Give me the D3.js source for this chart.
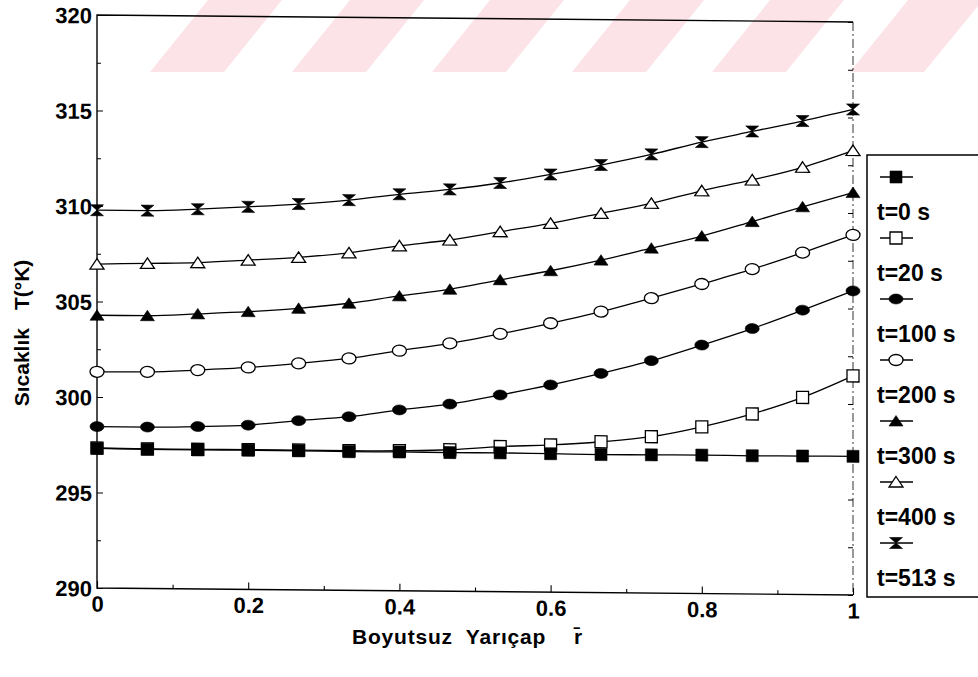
<!DOCTYPE html>
<html><head><meta charset="utf-8">
<script src="https://cdn.jsdelivr.net/npm/d3@7"></script>
<style>
body{margin:0;background:#fff;}
svg{display:block;}
text{font-family:"Liberation Sans",Arial,sans-serif;font-weight:bold;fill:#000;}
</style>
</head><body>
<svg id="chart" width="978" height="677"></svg>
<script>
// ---- data ----
const radius = [0, 0.0667, 0.1333, 0.2, 0.2667, 0.3333, 0.4, 0.4667, 0.5333, 0.6, 0.6667, 0.7333, 0.8, 0.8667, 0.9333, 1];
const t0   = [297.31, 297.29, 297.28, 297.29, 297.28, 297.26, 297.27, 297.26, 297.27, 297.25, 297.23, 297.24, 297.25, 297.24, 297.25, 297.26];
const t20  = [297.33, 297.31, 297.31, 297.32, 297.32, 297.31, 297.34, 297.41, 297.60, 297.71, 297.90, 298.19, 298.73, 299.43, 300.32, 301.47];
const t100 = [298.45, 298.45, 298.50, 298.60, 298.86, 299.09, 299.47, 299.80, 300.30, 300.85, 301.48, 302.17, 303.01, 303.90, 304.89, 305.92];
const t200 = [301.32, 301.34, 301.46, 301.62, 301.86, 302.14, 302.57, 302.98, 303.50, 304.08, 304.71, 305.44, 306.21, 307.01, 307.90, 308.85];
const t300 = [304.28, 304.28, 304.40, 304.54, 304.74, 305.03, 305.44, 305.81, 306.33, 306.83, 307.41, 308.06, 308.72, 309.50, 310.30, 311.07];
const t400 = [306.96, 307.02, 307.08, 307.24, 307.41, 307.67, 308.06, 308.39, 308.85, 309.31, 309.86, 310.41, 311.09, 311.68, 312.37, 313.27];
const t513 = [309.78, 309.78, 309.88, 310.03, 310.20, 310.43, 310.76, 311.04, 311.40, 311.87, 312.39, 312.97, 313.64, 314.22, 314.79, 315.42];
const seriesNames = ["t=0 s", "t=20 s", "t=100 s", "t=200 s", "t=300 s", "t=400 s", "t=513 s"];
const seriesValues = [t0, t20, t100, t200, t300, t400, t513];
const markerTypes = ["squareFilled", "squareOpen", "circleFilled", "circleOpen", "triFilled", "triOpen", "bowtie"];
const yTicks = [290, 295, 300, 305, 310, 315, 320];
const yMinor = [292.5, 297.5, 302.5, 307.5, 312.5, 317.5];
const xTicks = [0, 0.2, 0.4, 0.6, 0.8, 1];
const xMinor = [0.1, 0.3, 0.5, 0.7, 0.9];
const xTitle = "Boyutsuz  Yarıçap";
const yTitleA = "Sıcaklık";
const yTitleB = "T(°K)";

// ---- drawing ----
const svg = d3.select("#chart");

// faint watermark stripes
const wm = svg.append("g").attr("fill", "#fce3e8");
const stripes = [150, 292, 432, 572, 712];
stripes.forEach(b => {
  wm.append("path").attr("d", `M${b},72 L${b+74},72 L${b+132},0 L${b+58},0 Z`);
});
wm.append("path").attr("d", "M850,72 L924,72 L978,6 L978,0 L908,0 Z");

const W = 756, H = 573;
const g = svg.append("g").attr("transform", "translate(97,15) skewY(0.53)");
const x = d3.scaleLinear().domain([0, 1]).range([0, W]);
const y = d3.scaleLinear().domain([290, 320]).range([H, 0]);

// frame
g.append("path").attr("d", `M${W},0 L0,0 L0,${H} L${W},${H}`)
  .attr("fill", "none").attr("stroke", "#000").attr("stroke-width", 1.4);
g.append("line").attr("x1", W).attr("x2", W).attr("y1", 0).attr("y2", H)
  .attr("stroke", "#333").attr("stroke-width", 1).attr("stroke-dasharray", "9,3,2,3");

// axes
const ax = g.append("g").attr("transform", `translate(0,${H})`)
  .call(d3.axisBottom(x).tickValues(xTicks).tickSize(-7).tickPadding(8).tickFormat(d3.format("~g")));
const axm = g.append("g").attr("transform", `translate(0,${H})`)
  .call(d3.axisBottom(x).tickValues(xMinor).tickSize(-4).tickFormat(""));
const ay = g.append("g")
  .call(d3.axisLeft(y).tickValues(yTicks).tickSize(-6).tickPadding(5));
const aym = g.append("g")
  .call(d3.axisLeft(y).tickValues(yMinor).tickSize(-4).tickFormat(""));
const ayr = g.append("g").attr("transform", `translate(${W},0)`)
  .call(d3.axisRight(y).tickValues(yTicks.concat(yMinor)).tickSize(-5).tickFormat(""));
[ax, axm, ay, aym, ayr].forEach(a => {
  a.select(".domain").remove();
  a.selectAll("line").attr("stroke", "#000").attr("stroke-width", 1.1);
  a.selectAll("text").style("font-size", "22px").style("font-family", '"Liberation Sans",Arial,sans-serif').style("font-weight", "bold").attr("fill", "#000");
});
ay.selectAll("text").attr("dy", "0.36em");

// markers
function markerPath(type) {
  switch (type) {
    case "squareFilled": case "squareOpen": return "M-6,-6 H6 V6 H-6 Z";
    case "circleFilled": return "M-7,0 A7,5 0 1,0 7,0 A7,5 0 1,0 -7,0 Z";
    case "circleOpen": return "M-7,0 A7,5.5 0 1,0 7,0 A7,5.5 0 1,0 -7,0 Z";
    case "triFilled": case "triOpen": return "M0,-5.5 L7,5 L-7,5 Z";
    case "bowtie": return "M-6.5,-5.5 L6.5,-5.5 L0,0 L6.5,5.5 L-6.5,5.5 L0,0 Z";
  }
}
function isOpen(type) { return type === "squareOpen" || type === "circleOpen" || type === "triOpen"; }

const line = d3.line().x((d, i) => x(radius[i])).y(d => y(d)).curve(d3.curveMonotoneX);

for (let s = seriesValues.length - 1; s >= 0; s--) {
  const sg = g.append("g");
  sg.append("path").attr("d", line(seriesValues[s])).attr("fill", "none")
    .attr("stroke", "#000").attr("stroke-width", 1.3);
  const type = markerTypes[s];
  sg.selectAll("path.m").data(seriesValues[s]).join("path").attr("class", "m")
    .attr("d", markerPath(type))
    .attr("transform", (d, i) => `translate(${x(radius[i])},${y(d)})`)
    .attr("fill", isOpen(type) ? "#fff" : "#000")
    .attr("stroke", "#000").attr("stroke-width", isOpen(type) ? 1.3 : 0.6);
}

// axis titles
svg.append("text").attr("x", 352).attr("y", 644).style("font-size", "21px")
  .style("letter-spacing", "0.8px")
  .attr("xml:space", "preserve").style("white-space", "pre").text(xTitle);
svg.append("text").attr("x", 574).attr("y", 644).style("font-size", "21px").text("r\u0304");
const yt = svg.append("text").attr("transform", "translate(29,333) rotate(-90)")
  .attr("text-anchor", "middle").style("font-size", "21px");
yt.append("tspan").text(yTitleA);
yt.append("tspan").attr("dx", 18).text(yTitleB);

// legend
const lg = svg.append("g");
lg.append("rect").attr("x", 867).attr("y", 155).attr("width", 140).attr("height", 442)
  .attr("fill", "#fff").attr("stroke", "#000").attr("stroke-width", 1.5);
seriesNames.forEach((name, k) => {
  const my = 177 + k * 61;
  lg.append("line").attr("x1", 880).attr("x2", 913).attr("y1", my).attr("y2", my)
    .attr("stroke", "#000").attr("stroke-width", 1.4);
  lg.append("path").attr("d", markerPath(markerTypes[k]))
    .attr("transform", `translate(896,${my})`)
    .attr("fill", isOpen(markerTypes[k]) ? "#fff" : "#000")
    .attr("stroke", "#000").attr("stroke-width", isOpen(markerTypes[k]) ? 1.3 : 0.6);
  lg.append("text").attr("x", 877).attr("y", my + 43).style("font-size", "23px").text(name);
});
</script>
</body></html>
